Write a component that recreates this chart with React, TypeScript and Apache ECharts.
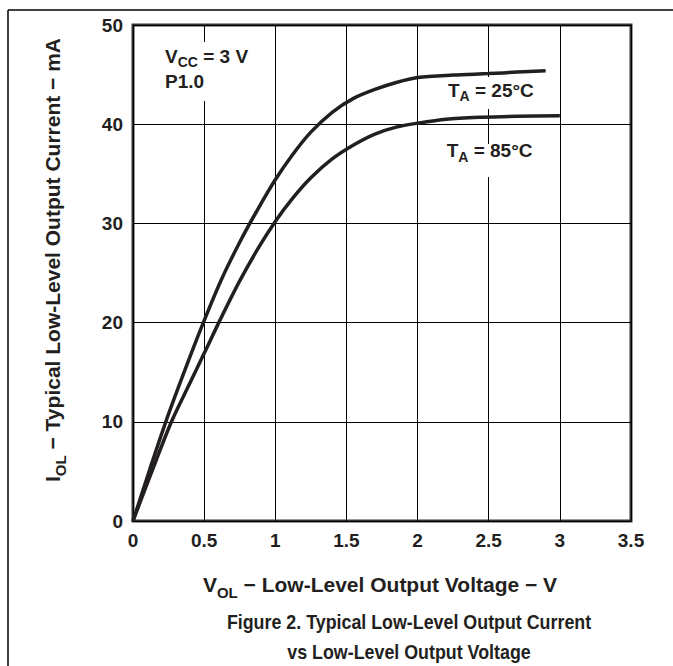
import React, { useEffect, useRef } from "react";
import * as echarts from "echarts";

const xTickLabels = ["0", "0.5", "1", "1.5", "2", "2.5", "3", "3.5"];
const yTickLabels = ["0", "10", "20", "30", "40", "50"];

// T_A = 25°C
const ta25V = [0, 0.12, 0.25, 0.38, 0.5, 0.62, 0.75, 0.88, 1.0, 1.12, 1.25, 1.4, 1.55, 1.7, 1.85, 2.0, 2.25, 2.5, 2.7, 2.9];
const ta25I = [0, 5.3, 10.8, 15.8, 20.2, 24.3, 28.1, 31.5, 34.4, 36.9, 39.2, 41.2, 42.6, 43.5, 44.2, 44.7, 44.95, 45.1, 45.25, 45.4];

// T_A = 85°C
const ta85V = [0, 0.13, 0.27, 0.4, 0.5, 0.62, 0.75, 0.88, 1.0, 1.12, 1.25, 1.4, 1.55, 1.7, 1.85, 2.0, 2.2, 2.45, 2.7, 3.0];
const ta85I = [0, 4.9, 10, 13.9, 16.9, 20.5, 24.2, 27.5, 30.2, 32.5, 34.6, 36.5, 37.9, 39.0, 39.7, 40.1, 40.5, 40.7, 40.8, 40.85];

const FONT = "'Liberation Sans', Arial, Helvetica, sans-serif";
const INK = "#231f20";

function zip(xs: number[], ys: number[]) {
  return xs.map((x, i) => [x, ys[i]]);
}

function richStyles(main: number, sub: number, lh: number) {
  return {
    m: { fontSize: main, fontWeight: "bold", fontFamily: FONT, fill: INK, lineHeight: lh, verticalAlign: "middle" },
    s: { fontSize: sub, fontWeight: "bold", fontFamily: FONT, fill: INK, lineHeight: sub, verticalAlign: "bottom" },
  };
}

export default function App() {
  const ref = useRef<HTMLDivElement>(null);
  useEffect(() => {
    if (!ref.current) return;
    const chart = echarts.init(ref.current, undefined, { renderer: "svg" });
    chart.setOption({
      animation: false,
      backgroundColor: "#fff",
      grid: {
        left: 133,
        top: 25,
        width: 498,
        height: 496,
        show: true,
        borderColor: "#333",
        borderWidth: 3,
        backgroundColor: "transparent",
      },
      xAxis: {
        type: "value",
        min: 0,
        max: 3.5,
        interval: 0.5,
        axisLine: { show: false },
        axisTick: { show: false },
        splitLine: { show: true, lineStyle: { color: "#000", width: 1 } },
        axisLabel: {
          margin: 10,
          fontSize: 19,
          fontWeight: "bold",
          fontFamily: FONT,
          color: INK,
          formatter: (v: number) => xTickLabels[Math.round(v / 0.5)],
        },
      },
      yAxis: {
        type: "value",
        min: 0,
        max: 50,
        interval: 10,
        axisLine: { show: false },
        axisTick: { show: false },
        splitLine: { show: true, lineStyle: { color: "#000", width: 1 } },
        axisLabel: {
          margin: 10,
          fontSize: 19,
          fontWeight: "bold",
          fontFamily: FONT,
          color: INK,
          formatter: (v: number) => yTickLabels[Math.round(v / 10)],
        },
      },
      series: [
        {
          name: "TA = 25°C",
          type: "line",
          data: zip(ta25V, ta25I),
          showSymbol: false,
          smooth: 0.3,
          lineStyle: { color: INK, width: 3.5 },
          z: 3,
        },
        {
          name: "TA = 85°C",
          type: "line",
          data: zip(ta85V, ta85I),
          showSymbol: false,
          smooth: 0.3,
          lineStyle: { color: INK, width: 3.5 },
          z: 3,
        },
      ],
      graphic: [
        { type: "line", z: 5, shape: { x1: 8, y1: 10, x2: 673, y2: 10 }, style: { stroke: "#000", lineWidth: 1.5 } },
        { type: "line", z: 5, shape: { x1: 8, y1: 10, x2: 8, y2: 666 }, style: { stroke: "#000", lineWidth: 1.5 } },
        { type: "rect", z: 1, shape: { x: 160, y: 42, width: 98, height: 59 }, style: { fill: "#fff" } },
        { type: "rect", z: 1, shape: { x: 440, y: 77, width: 102, height: 32 }, style: { fill: "#fff" } },
        { type: "rect", z: 1, shape: { x: 440, y: 144, width: 102, height: 33 }, style: { fill: "#fff" } },
        {
          type: "text",
          z: 6,
          x: 165,
          y: 56,
          style: {
            text: "{m|V}{s|CC}{m| = 3 V}",
            rich: richStyles(19, 14, 26),
            align: "left",
            verticalAlign: "middle",
          },
        },
        {
          type: "text",
          z: 6,
          x: 165,
          y: 81.7,
          style: {
            text: "P1.0",
            fontSize: 19,
            fontWeight: "bold",
            fontFamily: FONT,
            fill: INK,
            align: "left",
            verticalAlign: "middle",
          },
        },
        {
          type: "text",
          z: 6,
          x: 448,
          y: 90.3,
          style: {
            text: "{m|T}{s|A}{m| = 25°C}",
            rich: richStyles(19, 14, 26),
            align: "left",
            verticalAlign: "middle",
          },
        },
        {
          type: "text",
          z: 6,
          x: 446.7,
          y: 150.7,
          style: {
            text: "{m|T}{s|A}{m| = 85°C}",
            rich: richStyles(19, 14, 26),
            align: "left",
            verticalAlign: "middle",
          },
        },
        {
          type: "text",
          z: 6,
          x: 380,
          y: 584,
          style: {
            text: "{m|V}{s|OL}{m| − Low-Level Output Voltage − V}",
            rich: richStyles(21, 15, 32),
            align: "center",
            verticalAlign: "middle",
          },
        },
        {
          type: "text",
          z: 6,
          x: 52,
          y: 260,
          rotation: Math.PI / 2,
          style: {
            text: "{m|I}{s|OL}{m| − Typical Low-Level Output Current − mA}",
            rich: richStyles(21, 15, 32),
            align: "center",
            verticalAlign: "middle",
          },
        },
        {
          type: "text",
          z: 6,
          x: 409,
          y: 621,
          scaleX: 0.85,
          style: {
            text: "Figure 2. Typical Low-Level Output Current",
            fontSize: 21,
            fontWeight: "bold",
            fontFamily: FONT,
            fill: INK,
            align: "center",
            verticalAlign: "middle",
          },
        },
        {
          type: "text",
          z: 6,
          x: 409,
          y: 651.5,
          scaleX: 0.85,
          style: {
            text: "vs Low-Level Output Voltage",
            fontSize: 21,
            fontWeight: "bold",
            fontFamily: FONT,
            fill: INK,
            align: "center",
            verticalAlign: "middle",
          },
        },
      ],
    });
    return () => chart.dispose();
  }, []);
  return (
    <div
      ref={ref}
      style={{ position: "absolute", left: 0, top: 0, width: 673, height: 666 }}
    />
  );
}
